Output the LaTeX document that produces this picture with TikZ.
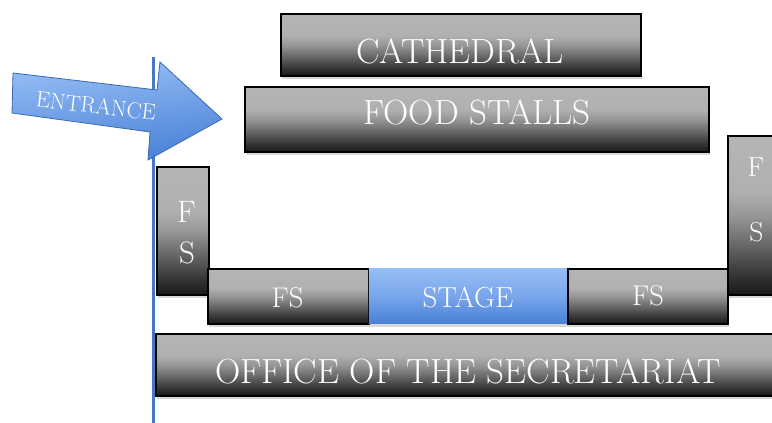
\documentclass[tikz,border=0pt]{standalone}
\usetikzlibrary{shadows}
\pgfdeclareverticalshading{grayshade}{100bp}{
  color(0bp)=(black!90);
  color(25bp)=(black!90);
  color(30bp)=(black!82);
  color(40bp)=(black!61);
  color(50bp)=(black!41);
  color(57.5bp)=(black!31);
  color(75bp)=(black!29);
  color(100bp)=(black!29)}
\definecolor{btop}{RGB}{150,190,245}
\definecolor{bmid}{RGB}{120,165,235}
\definecolor{bbot}{RGB}{72,128,214}
\pgfdeclareverticalshading{blueshade}{100bp}{
  color(0bp)=(bbot);
  color(25bp)=(bbot);
  color(50bp)=(bmid);
  color(75bp)=(btop);
  color(100bp)=(btop)}
\definecolor{bline}{RGB}{70,120,195}
\definecolor{bedge}{RGB}{60,105,175}
\begin{document}
\begin{tikzpicture}[x=1pt,y=-1pt,
  box/.style={draw=black, line width=1.8pt, anchor=north west, inner sep=0pt,
    shading=grayshade,
    drop shadow={shadow xshift=1pt, shadow yshift=-3pt, opacity=0.3}},
  bluebox/.style={box, draw=none, shading=blueshade},
  lbl/.style={text=white, inner sep=0pt},
  big/.style={lbl, font=\fontsize{35}{40}\selectfont},
  small/.style={lbl, font=\fontsize{28.5}{32}\selectfont}]
\useasboundingbox (0,0) rectangle (772,423);
\fill[white] (0,0) rectangle (772,423);
% entrance line
\coordinate (lt) at (153,57);
\coordinate (lb) at (153,423);
\draw[bline, line width=3pt] (lt) -- (lb);
% entrance arrow
\path[draw=bedge, line width=0.8pt, top color=btop, bottom color=bbot, shading angle=7]
  (13,73) -- (157,90) -- (160,62) -- (222,119) -- (148,160) -- (150,132) -- (12,113) -- cycle;
\node[lbl, rotate=-6.5, font=\fontsize{22.5}{26}\selectfont] (entr) at (96,106) {ENTRANCE};
% boxes
\node[box, minimum width=360pt, minimum height=62pt] (cath) at (280,13) {};
\node[big] (catht) at (460,51.5) {CATHEDRAL};
\node[box, minimum width=464pt, minimum height=65pt] (food) at (244,86) {};
\node[big] (foodt) at (477,112.5) {FOOD STALLS};
\node[box, minimum width=52pt, minimum height=128pt] (fsl) at (156,166) {};
\node[lbl, font=\fontsize{31}{36}\selectfont] (fslf) at (186.5,211.5) {F};
\node[lbl, font=\fontsize{31}{36}\selectfont] (fsls) at (187,252.5) {S};
\node[box, minimum width=58pt, minimum height=159pt] (fsr) at (727,135) {};
\node[lbl, font=\fontsize{27.5}{32}\selectfont] (fsrf) at (756,167.5) {F};
\node[lbl, font=\fontsize{27.5}{32}\selectfont] (fsrs) at (756.5,232) {S};
\node[box, minimum width=161pt, minimum height=55pt] (fs1) at (207,268) {};
\node[small] (fs1t) at (287.5,297.5) {FS};
\node[bluebox, minimum width=199pt, minimum height=55pt] (stage) at (368,268) {};
\node[small, font=\fontsize{29}{32}\selectfont] (staget) at (468,297) {STAGE};
\node[box, minimum width=160pt, minimum height=55pt] (fs2) at (567,268) {};
\node[small] (fs2t) at (648,296) {FS};
\node[box, minimum width=626pt, minimum height=62pt] (office) at (155,333) {};
\node[big] (officet) at (468,371.5) {OFFICE OF THE SECRETARIAT};
\end{tikzpicture}
\end{document}
